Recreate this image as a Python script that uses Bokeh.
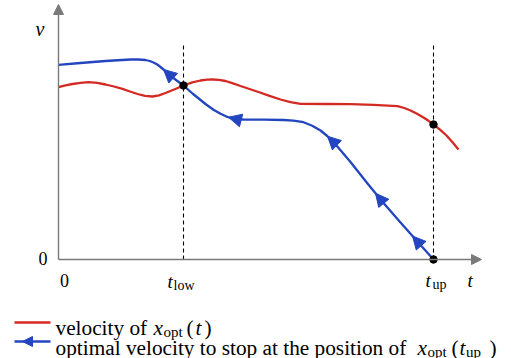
from bokeh.plotting import figure
from bokeh.models import Range1d, Arrow, NormalHead
from bokeh.core.properties import value
from bokeh.embed import file_html
from bokeh.resources import INLINE
import numpy as np

# ---- data (t in units where t_low = 1, t_up = 3) ----
t_low = 1.0
t_up = 3.0

red_t = [0.0, 0.056, 0.112, 0.176, 0.24, 0.31, 0.376, 0.444, 0.512, 0.572, 0.632,
         0.692, 0.752, 0.804, 0.856, 0.93, 1.0, 1.07, 1.136, 1.19, 1.232,
         1.284, 1.336, 1.396, 1.456, 1.528, 1.6, 1.688, 1.776, 1.856, 1.936,
         2.136, 2.336, 2.52, 2.712, 2.766, 2.816, 2.868, 2.92, 2.96, 3.0, 3.052,
         3.104, 3.152, 3.2]
red_v = [1.723, 1.742, 1.755, 1.766, 1.773, 1.766, 1.75, 1.73, 1.707, 1.68, 1.655,
         1.637, 1.63, 1.642, 1.665, 1.703, 1.74, 1.772, 1.79, 1.798, 1.80,
         1.797, 1.785, 1.762, 1.735, 1.705, 1.675, 1.637, 1.60, 1.573, 1.557,
         1.555, 1.553, 1.546, 1.533, 1.515, 1.49, 1.458, 1.42, 1.387, 1.35, 1.298,
         1.24, 1.172, 1.10]

blue_t = [0.0, 0.176, 0.376, 0.576, 0.64, 0.696, 0.73, 0.76, 0.79, 0.816, 0.85,
          0.88, 0.94, 1.0, 1.072, 1.176, 1.24, 1.296, 1.34, 1.376, 1.43, 1.48,
          1.64, 1.8, 1.88, 1.96, 2.03, 2.096, 2.15, 2.2, 2.336, 2.472, 2.6, 2.736,
          2.864, 3.0]
blue_v = [1.947, 1.965, 1.985, 2.0, 2.0, 1.995, 1.985, 1.97, 1.95, 1.925, 1.89,
          1.855, 1.795, 1.74, 1.66, 1.555, 1.497, 1.457, 1.432, 1.415, 1.403, 1.40,
          1.398, 1.395, 1.388, 1.373, 1.338, 1.29, 1.235, 1.175, 0.975, 0.76, 0.565,
          0.37, 0.19, 0.0]

arrow_t = [0.84, 1.36, 2.152, 2.536, 2.832]

x_tick_labels = ["0", "t", "t"]
y_tick_labels = ["0"]

RED = "#d42a24"
BLUE = "#2346c0"
GRAY = "#7a7a7a"

W, H = 511, 358

# ---- layout helpers: page pixel -> data ----
def X(px):
    return (px - 58) / 125.0

def Y(py):
    return (259 - py) / 100.0

p = figure(width=W, height=H, output_backend="svg", toolbar_location=None,
           x_range=Range1d(X(0), X(W)), y_range=Range1d(Y(H), Y(0)),
           x_axis_type=None, y_axis_type=None, min_border=0,
           outline_line_color=None, background_fill_color="white",
           border_fill_color="white")
p.grid.visible = False

# axes with arrow heads
p.add_layout(Arrow(x_start=0, y_start=0, x_end=X(481), y_end=0,
                   line_color=GRAY, line_width=1.4,
                   end=NormalHead(size=10, fill_color=GRAY, line_color=GRAY, line_width=1)))
p.add_layout(Arrow(x_start=0, y_start=0, x_end=0, y_end=Y(4),
                   line_color=GRAY, line_width=1.4,
                   end=NormalHead(size=10, fill_color=GRAY, line_color=GRAY, line_width=1)))

# dashed verticals
p.segment(x0=[t_low, t_up], y0=[0, 0], x1=[t_low, t_up], y1=[Y(45), Y(45)],
          line_color="black", line_width=1.1, line_dash="4 3")

# curves
p.line(red_t, red_v, line_color=RED, line_width=2.3, line_join="round")
p.line(blue_t, blue_v, line_color=BLUE, line_width=2.3, line_join="round")

# arrows along blue curve (pointing towards decreasing t)
for ta in arrow_t:
    tb = ta + 0.04
    va = float(np.interp(ta, blue_t, blue_v))
    vb = float(np.interp(tb, blue_t, blue_v))
    p.add_layout(Arrow(x_start=tb, y_start=vb, x_end=ta, y_end=va,
                       line_alpha=0, line_width=0,
                       end=NormalHead(size=13, fill_color=BLUE, line_color=BLUE, line_width=1)))

# dots
red_at_low = float(np.interp(t_low, red_t, red_v))
red_at_up = float(np.interp(t_up, red_t, red_v))
p.scatter([t_low, t_up, t_up], [red_at_low, red_at_up, 0], size=7.5, color="black")

FONT = value("Liberation Serif")

def txt(x, y, s, size, italic=False):
    p.text(x=[x], y=[y], text=[s], text_font=FONT, text_font_size=size,
           text_font_style="italic" if italic else "normal",
           text_baseline="alphabetic", text_align="left", text_color="black")

# axis labels
txt(X(35), Y(28), "v", "20px", italic=True)
txt(X(38), Y(258), y_tick_labels[0], "18px")
txt(X(59.5), Y(280), x_tick_labels[0], "18px")
txt(X(167), Y(281), x_tick_labels[1], "19px", italic=True)
txt(X(173), Y(285), "low", "14px")
txt(X(425), Y(280), x_tick_labels[2], "19px", italic=True)
txt(X(432), Y(284), "up", "14px")
txt(X(467), Y(280), "t", "19px", italic=True)

# legend
p.line([X(14), X(50)], [Y(322), Y(322)], line_color=RED, line_width=2.3)
p.line([X(14), X(50)], [Y(341), Y(341)], line_color=BLUE, line_width=2.3)
p.add_layout(Arrow(x_start=X(30), y_start=Y(341), x_end=X(22), y_end=Y(341),
                   line_alpha=0, line_width=0,
                   end=NormalHead(size=10, fill_color=BLUE, line_color=BLUE, line_width=1)))

LS = "21.3px"
SUB = "15px"
b1, b2 = 327, 347
txt(X(55), Y(b1), "velocity of", LS)
txt(X(153), Y(b1), "x", LS, italic=True)
txt(X(163), Y(b1 + 4), "opt", SUB)
txt(X(186), Y(b1), "(", LS)
txt(X(195), Y(b1), "t", LS, italic=True)
txt(X(204), Y(b1), ")", LS)

txt(X(55), Y(b2), "optimal velocity to stop at the position of", LS)
txt(X(417), Y(b2), "x", LS, italic=True)
txt(X(427), Y(b2 + 4), "opt", SUB)
txt(X(451), Y(b2), "(", LS)
txt(X(459), Y(b2), "t", LS, italic=True)
txt(X(465.5), Y(b2 + 4), "up", SUB)
txt(X(489), Y(b2), ")", LS)

open("out.html", "w").write(file_html(p, INLINE))
